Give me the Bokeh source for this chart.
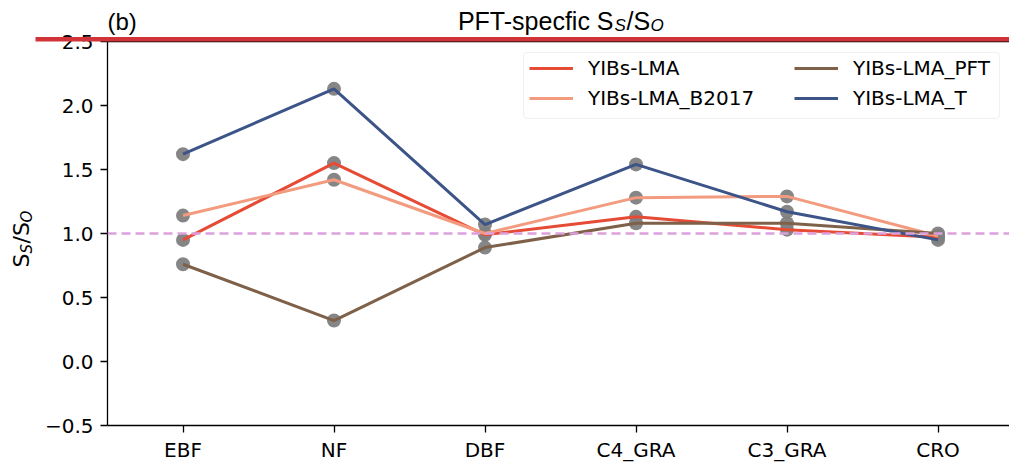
import math
from bokeh.plotting import figure
from bokeh.models import (Span, BoxAnnotation, Legend, LegendItem,
                          FixedTicker, LinearAxis, Range1d)
from bokeh.core.properties import value
from bokeh.embed import file_html
from bokeh.resources import INLINE

# ---- data ----
categories = ["EBF", "NF", "DBF", "C4_GRA", "C3_GRA", "CRO"]
yibs_lma = [0.95, 1.55, 0.99, 1.13, 1.03, 0.97]
yibs_lma_b2017 = [1.14, 1.42, 1.00, 1.28, 1.29, 0.98]
yibs_lma_pft = [0.76, 0.32, 0.89, 1.08, 1.08, 1.00]
yibs_lma_t = [1.62, 2.13, 1.07, 1.54, 1.17, 0.95]
series_names = ["YIBs-LMA", "YIBs-LMA_B2017", "YIBs-LMA_PFT", "YIBs-LMA_T"]
series_colors = ["#E64B35", "#F39B7F", "#7E6148", "#3C5488"]
y_ticks = [-0.5, 0.0, 0.5, 1.0, 1.5, 2.0, 2.5]
reference_level = 1.0

W, H = 1009, 464
FL, FT, FB = 107, 41, 425  # frame left, top, bottom (px)

xs = list(range(len(categories)))

p = figure(width=W, height=H, output_backend="svg", toolbar_location=None,
           x_range=Range1d(-0.5, -0.5 + (W - FL) / 151.0),
           y_range=Range1d(-0.5, 2.5),
           min_border_left=FL, min_border_top=FT, min_border_bottom=H - FB,
           min_border_right=0, title=None)
p.outline_line_color = None
p.grid.visible = False
p.background_fill_color = "white"
p.border_fill_color = "white"

def key(t):
    return int(t) if float(t).is_integer() else t

p.xaxis.ticker = FixedTicker(ticks=xs)
p.xaxis.major_label_overrides = {i: c for i, c in enumerate(categories)}
p.yaxis.ticker = FixedTicker(ticks=y_ticks)
p.yaxis.major_label_overrides = {key(t): ("%.1f" % t).replace("-", "\u2212") for t in y_ticks}
for ax in (p.xaxis[0], p.yaxis[0]):
    ax.minor_tick_line_color = None
    ax.major_tick_in = 0
    ax.major_tick_out = 7
    ax.major_tick_line_width = 1.3
    ax.axis_line_width = 1.3
    ax.axis_line_color = "black"
    ax.major_tick_line_color = "black"
    ax.major_label_text_font = "DejaVu Sans"
    ax.major_label_text_font_size = "20px"
    ax.major_label_text_color = "black"
    ax.axis_label = None
p.xaxis.major_label_standoff = 5
p.yaxis.major_label_standoff = 7

top_axis = LinearAxis(ticker=FixedTicker(ticks=[]), major_tick_out=0, major_tick_in=0,
                      minor_tick_line_color=None, major_label_text_font_size="0px",
                      axis_line_color="black", axis_line_width=1.3)
p.add_layout(top_axis, "above")

series = [yibs_lma, yibs_lma_b2017, yibs_lma_pft, yibs_lma_t]
for vals in series:
    p.scatter(xs, vals, size=14, fill_color="#808080", line_color=None, fill_alpha=0.95)
renderers = []
for vals, col in zip(series, series_colors):
    renderers.append(p.line(xs, vals, line_color=col, line_width=3))

p.add_layout(Span(location=reference_level, dimension="width", line_color="#DDA0DD",
                  line_width=2.5, line_dash="9 5"))

def sx(px):
    return px - FL

def sy(py):
    return FB - py

p.add_layout(BoxAnnotation(left=sx(523), right=sx(999), top=sy(52), bottom=sy(118),
                           left_units="screen", right_units="screen",
                           top_units="screen", bottom_units="screen",
                           fill_color="white", fill_alpha=0.85, line_color="#cccccc",
                           line_width=1.2, border_radius=4))

def make_legend(items, x, y):
    return Legend(items=items, location=(x, y), orientation="vertical",
                  border_line_color=None, background_fill_alpha=0.0,
                  padding=0, margin=0, spacing=0, glyph_width=44, glyph_height=30,
                  label_height=30, label_standoff=15, label_text_font="DejaVu Sans",
                  label_text_font_size="20px", label_text_color="black")

items = [LegendItem(label=n, renderers=[r]) for n, r in zip(series_names, renderers)]
p.add_layout(make_legend(items[:2], sx(529), sy(113)))
p.add_layout(make_legend(items[2:], sx(794), sy(113)))

# ---- transparent overlay (separate root) for texts outside the plot frame ----
o = figure(width=W, height=H, output_backend="svg", toolbar_location=None,
           x_range=Range1d(0, W), y_range=Range1d(H, 0),
           x_axis_type=None, y_axis_type=None, min_border=0, title=None)
o.outline_line_color = None
o.grid.visible = False
o.background_fill_alpha = 0
o.border_fill_alpha = 0
o.styles = {"position": "absolute", "top": "0px", "left": "0px", "z-index": "5",
            "pointer-events": "none"}

o.quad(left=[35], right=[W], top=[36.5], bottom=[41], fill_color="#D13438",
       line_color=None)

def txt(px, py, t, size, font="DejaVu Sans", style="normal", angle=0.0, align="left"):
    o.text(x=[px], y=[py], text=[t], text_font=value(font),
           text_font_size=value(f"{size}px"), text_font_style=style,
           text_align=align, text_baseline="alphabetic", angle=angle,
           text_color="black")

TF = "Liberation Sans"
txt(107, 21, "(b)", 24, font=TF)
txt(613, 20, "PFT-specfic S", 25, font=TF, align="right")
txt(614, 25, "S", 17, font=TF, style="italic")
txt(626, 20, "/S", 25, font=TF)
txt(650, 25, "O", 17, font=TF, style="italic")

A = math.pi / 2
txt(21, 267, "S", 22, angle=A)
txt(26, 253, "S", 15, style="italic", angle=A)
txt(21, 243, "/S", 22, angle=A)
txt(26, 222, "O", 15, style="italic", angle=A)

open("out.html", "w").write(file_html([p, o], INLINE))
